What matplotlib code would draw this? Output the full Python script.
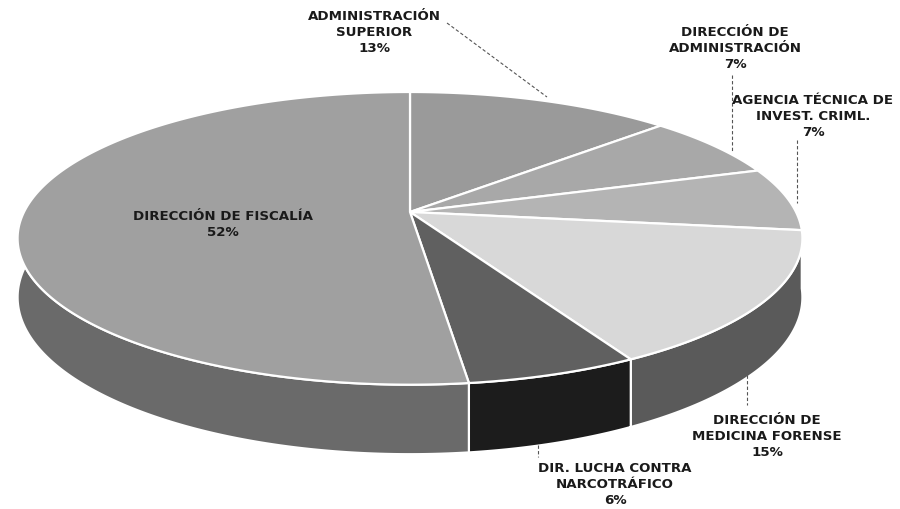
import numpy as np
import matplotlib
matplotlib.use("Agg")
import matplotlib.pyplot as plt
from matplotlib.patches import Polygon

# ---- data ----
labels = ["ADMINISTRACIÓN\nSUPERIOR",
          "DIRECCIÓN DE\nADMINISTRACIÓN",
          "AGENCIA TÉCNICA DE\nINVEST. CRIML.",
          "DIRECCIÓN DE\nMEDICINA FORENSE",
          "DIR. LUCHA CONTRA\nNARCOTRÁFICO",
          "DIRECCIÓN DE FISCALÍA"]
values = [13, 7, 7, 15, 6, 52]

top_colors = ["#9a9a9a", "#a8a8a8", "#b4b4b4", "#d8d8d8", "#606060", "#a0a0a0"]
side_colors = ["#5a5a5a", "#606060", "#6a6a6a", "#5a5a5a", "#1c1c1c", "#6a6a6a"]

# ---- geometry of the 3D pie (pixel-like coordinates, y down) ----
CX, CY = 410.0, 212.0   # projected centre
RX, RY = 386.0, 141.6   # radii
K = 0.18                # perspective strength
H = 57.0                # thickness


def rim(theta, drop=0.0):
    s = 1.0 / (1.0 + K * np.cos(theta))
    x = CX + RX * np.sin(theta) * s
    y = CY - RY * np.cos(theta) * s + drop * s
    return x, y


fig = plt.figure(figsize=(9.0, 5.09), dpi=100)
ax = fig.add_axes([0, 0, 1, 1])
ax.set_xlim(0, 900)
ax.set_ylim(509, 0)
ax.axis("off")

total = float(sum(values))
fracs = np.array(values) / total
bounds = np.concatenate([[0.0], np.cumsum(fracs)]) * 2 * np.pi

# sides (visible front half: theta in [pi/2, 3pi/2])
for i in range(len(values)):
    a0, a1 = bounds[i], bounds[i + 1]
    lo, hi = max(a0, np.pi / 2), min(a1, 3 * np.pi / 2)
    if hi <= lo:
        continue
    t = np.linspace(lo, hi, 200)
    xt, yt = rim(t)
    xb, yb = rim(t[::-1], H)
    poly = np.column_stack([np.concatenate([xt, xb]), np.concatenate([yt, yb])])
    ax.add_patch(Polygon(poly, closed=True, facecolor=side_colors[i],
                         edgecolor="white", linewidth=1.6, joinstyle="round",
                         zorder=1))

# top surfaces
for i in range(len(values)):
    a0, a1 = bounds[i], bounds[i + 1]
    t = np.linspace(a0, a1, 300)
    xt, yt = rim(t)
    poly = np.column_stack([np.concatenate([[CX], xt]), np.concatenate([[CY], yt])])
    ax.add_patch(Polygon(poly, closed=True, facecolor=top_colors[i],
                         edgecolor="white", linewidth=1.6, joinstyle="round",
                         zorder=2))

# ---- labels ----
font = dict(family=["DejaVu Sans"], fontweight="bold", fontsize=9.6,
            color="#1a1a1a", ha="center", va="center", linespacing=1.3)
label_pos = [(374, 32), (735, 48), (813, 116), (767, 436), (615, 484), (223, 225)]
for lab, v, (lx, ly) in zip(labels, values, label_pos):
    pct = f"{round(100 * v / total):d}%"
    ax.text(lx, ly, f"{lab}\n{pct}", zorder=5, **font)

# leader lines
leaders = [((447, 23), (547, 97)),
           ((732, 75), (732, 152)),
           ((797, 140), (797, 203)),
           ((747, 375), (747, 405)),
           ((538, 445), (538, 457))]
for (x0, y0), (x1, y1) in leaders:
    ax.plot([x0, x1], [y0, y1], color="#555555", linewidth=0.8,
            linestyle=(0, (3, 2)), zorder=4)

fig.savefig("out.png", dpi=100)
